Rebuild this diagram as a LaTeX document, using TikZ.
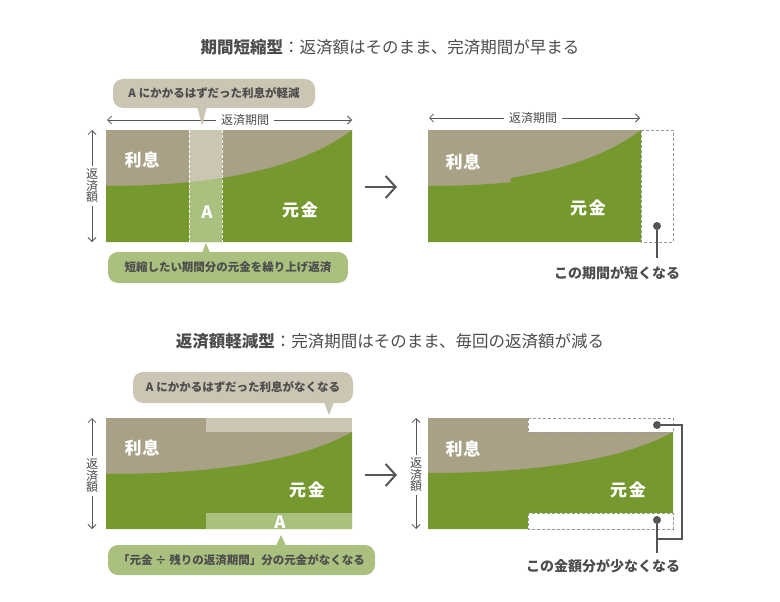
\documentclass[tikz,border=0pt]{standalone}
\usepackage{fontspec}
\setmainfont{Noto Sans CJK JP}
\usetikzlibrary{arrows.meta}
\definecolor{olive}{HTML}{76992F}
\definecolor{taupe}{HTML}{A8A186}
\definecolor{lighttaupe}{HTML}{CAC6B3}
\definecolor{lightolive}{HTML}{A9C07E}
\definecolor{txt}{HTML}{4D4D4D}
\definecolor{ln}{HTML}{555555}
\begin{document}
\begin{tikzpicture}[x=1pt,y=-1pt,
  title/.style={text=txt,font=\fontsize{16.5}{20}\selectfont,inner sep=0pt},
  callout/.style={rounded corners=10pt,inner sep=0pt,text=txt,font=\fontsize{11.5}{14}\selectfont\bfseries},
  chartlabel/.style={text=white,font=\fontsize{17}{20}\selectfont\bfseries,inner sep=0pt},
  dimarrow/.style={draw=ln,line width=0.8pt,{Straight Barb[length=4pt,width=8pt]}-{Straight Barb[length=4pt,width=8pt]}},
  dimlabel/.style={fill=white,text=txt,font=\fontsize{12}{13}\selectfont,inner xsep=5pt,inner ysep=1pt},
  vlabel/.style={fill=white,text=txt,font=\fontsize{12}{12.5}\selectfont,align=center,inner xsep=1pt,inner ysep=3pt},
  bigarrow/.style={draw=ln,line width=2pt,-{Straight Barb[length=10pt,width=22pt,line width=2pt]}},
  note/.style={text=txt,font=\fontsize{14}{16}\selectfont\bfseries,inner sep=0pt},
  dot/.style={circle,fill=ln,inner sep=0pt,minimum size=8pt},
  leader/.style={draw=ln,line width=1.4pt},
  dashbox/.style={draw=gray!80,dashed,line width=0.6pt,dash pattern=on 3pt off 2pt}
]
\useasboundingbox (0,0) rectangle (780,602);

% ---------------- titles
\node[title] (t1) at (390,47) {{\bfseries 期間短縮型}：返済額はそのまま、完済期間が早まる};
\node[title] (t2) at (390,341) {{\bfseries 返済額軽減型}：完済期間はそのまま、毎回の返済額が減る};

% ---------------- top-left chart
\fill[taupe] (106,130) rectangle (352,242);
\fill[olive] (106,242) -- (106,186) .. controls (226,186) and (306,165) .. (352,130) -- (352,242) -- cycle;
\begin{scope}
  \clip (189,130) rectangle (222,242);
  \fill[lighttaupe] (189,130) rectangle (222,242);
  \fill[lightolive] (106,242) -- (106,186) .. controls (226,186) and (306,165) .. (352,130) -- (352,242) -- cycle;
\end{scope}
\draw[white,dashed,line width=0.7pt,dash pattern=on 3pt off 2pt] (189,130) -- (189,242) (222,130) -- (222,242);
\node[chartlabel] (tlr) at (142,160) {利\kern1pt 息};
\node[chartlabel] (tla) at (207,212) {A};
\node[chartlabel] (tlg) at (300,210) {元\kern2pt 金};

% dimension arrows top-left
\coordinate (tlh1) at (107,120);
\coordinate (tlh2) at (352,120);
\draw[dimarrow] (tlh1) -- (tlh2);
\node[dimlabel] (tlhl) at (245,120) {返済期間};
\coordinate (tlv1) at (92,130);
\coordinate (tlv2) at (92,242);
\draw[dimarrow] (tlv1) -- (tlv2);
\node[vlabel] (tlvl) at (92,186) {返\\[-1pt]済\\[-1pt]額};

% callouts top-left
\node[callout,fill=lighttaupe,minimum width=202pt,minimum height=29pt] (c1) at (214,93.5) {A\kern3pt にかかるはずだった利息が軽減};
\coordinate (c1tip) at (202,126);
\fill[lighttaupe] (c1tip) -- ++(-5.5,-22) -- ++(11,0) -- cycle;
\node[callout,fill=lightolive,minimum width=240pt,minimum height=31pt] (c2) at (228,267.5) {短縮したい期間分の元金を繰り上げ返済};
\coordinate (c2tip) at (206,243);
\fill[lightolive] (c2tip) -- ++(-5.5,14) -- ++(11,0) -- cycle;

% big arrow top
\coordinate (ba1) at (365,187);
\coordinate (ba2) at (397,187);
\draw[bigarrow] (ba1) -- (ba2);

% ---------------- top-right chart
\fill[taupe] (428,130) rectangle (641,242);
\begin{scope}
  \clip (428,130) rectangle (511,242);
  \fill[olive,shift={(322,0)}] (106,242) -- (106,186) .. controls (226,186) and (306,165) .. (352,130) -- (352,242) -- cycle;
\end{scope}
\begin{scope}
  \clip (510.5,130) rectangle (641,242);
  \fill[olive,shift={(289,0)}] (106,242) -- (106,186) .. controls (226,186) and (306,165) .. (352,130) -- (352,242) -- cycle;
\end{scope}
\draw[dashbox] (641,130) rectangle (673,242);
\node[chartlabel] (trr) at (463,162) {利\kern1pt 息};
\node[chartlabel] (trg) at (588,208) {元\kern2pt 金};
\coordinate (trh1) at (429,118);
\coordinate (trh2) at (640,118);
\draw[dimarrow] (trh1) -- (trh2);
\node[dimlabel] (trhl) at (533,118) {返済期間};

\node[dot] (d1) at (657,226) {};
\coordinate (d1e) at (657,258);
\draw[leader] (d1) -- (d1e);
\node[note] (n1) at (617,273) {この期間が短くなる};

% ---------------- bottom-left chart
\fill[taupe] (106,418) rectangle (352,529);
\fill[lighttaupe] (206,418) rectangle (352,432);
\fill[olive] (106,529) -- (106,474) .. controls (226,474) and (306,458) .. (352,432) -- (352,529) -- cycle;
\fill[lightolive] (206,513) rectangle (352,529);
\node[chartlabel] (blr) at (142,448) {利\kern1pt 息};
\node[chartlabel] (blg) at (307,490) {元\kern2pt 金};
\node[chartlabel] (bla) at (280,522) {A};

\coordinate (blv1) at (92,418);
\coordinate (blv2) at (92,529);
\draw[dimarrow] (blv1) -- (blv2);
\node[vlabel] (blvl) at (92,476) {返\\[-1pt]済\\[-1pt]額};

\node[callout,fill=lighttaupe,minimum width=220pt,minimum height=31pt] (c3) at (243,387.5) {A\kern3pt にかかるはずだった利息がなくなる};
\coordinate (c3tip) at (329,415);
\fill[lighttaupe] (c3tip) -- ++(-5.5,-14) -- ++(11,0) -- cycle;
\node[callout,fill=lightolive,minimum width=267pt,minimum height=30pt] (c4) at (241.5,560) {「元金 ÷ 残りの返済期間」分の元金がなくなる};
\coordinate (c4tip) at (281,535);
\fill[lightolive] (c4tip) -- ++(-5.5,12) -- ++(11,0) -- cycle;

\coordinate (bb1) at (365,475);
\coordinate (bb2) at (397,475);
\draw[bigarrow] (bb1) -- (bb2);

% ---------------- bottom-right chart
\fill[taupe] (428,418) rectangle (673,529);
\fill[olive] (428,529) -- (428,473) .. controls (548,473) and (628,457) .. (673,432) -- (673,529) -- cycle;
\draw[dashbox,fill=white] (528,418) rectangle (673,432);
\draw[dashbox,fill=white] (528,513) rectangle (673,529);
\node[chartlabel] (brr) at (463,449) {利\kern1pt 息};
\node[chartlabel] (brg) at (628,490) {元\kern2pt 金};

\coordinate (brv1) at (416,418);
\coordinate (brv2) at (416,529);
\draw[dimarrow] (brv1) -- (brv2);
\node[vlabel] (brvl) at (416,475) {返\\[-1pt]済\\[-1pt]額};

\node[dot] (d2) at (657,425) {};
\node[dot] (d3) at (657,520) {};
\coordinate (k1) at (682,425);
\coordinate (k2) at (682,539);
\coordinate (k3) at (657,539);
\coordinate (k4) at (657,553);
\draw[leader,line width=1.2pt] (d2) -- (k1) -- (k2) -- (k3);
\draw[leader] (d3) -- (k4);
\node[note] (n2) at (603,566) {この金額分が少なくなる};
\end{tikzpicture}
\end{document}
